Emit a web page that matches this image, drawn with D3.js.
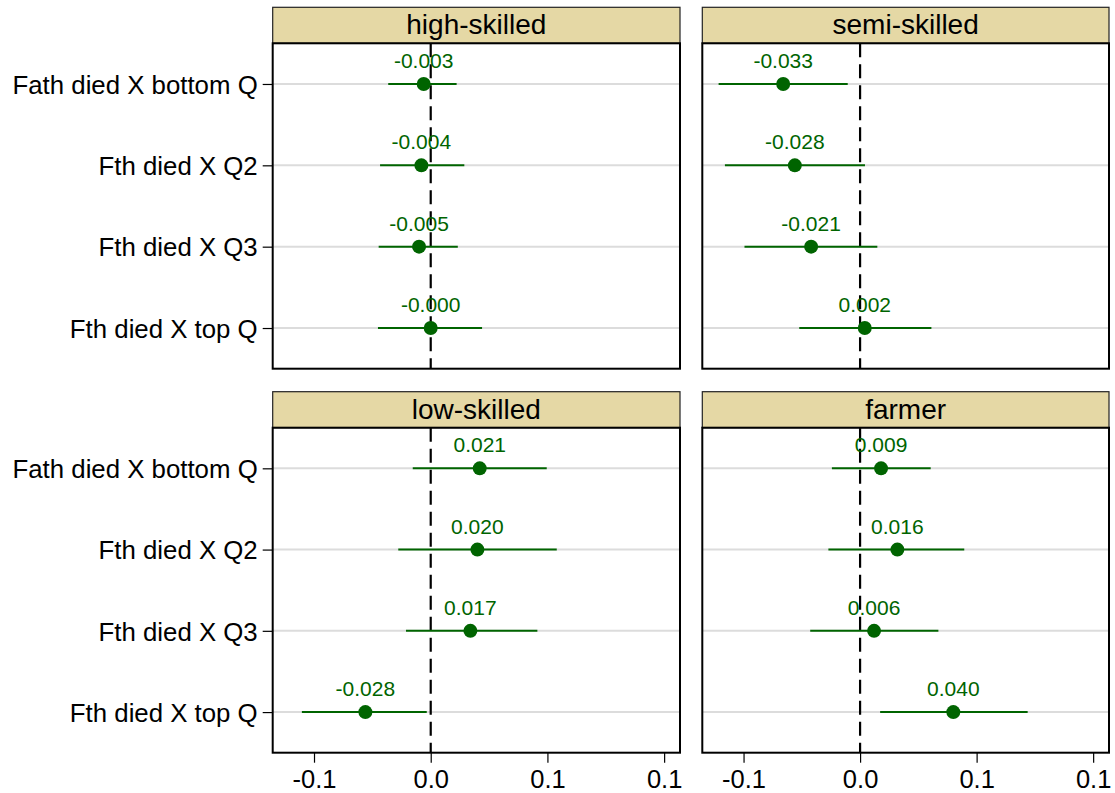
<!DOCTYPE html>
<html>
<head>
<meta charset="utf-8">
<script src="https://cdn.jsdelivr.net/npm/d3@7"></script>
<style>
  html, body { margin: 0; padding: 0; background: #fff; }
  svg { display: block; font-family: "Liberation Sans", Arial, sans-serif; }
</style>
</head>
<body>
<svg id="chart" width="1115" height="793"></svg>
<script>
// Interaction terms shown on the vertical axis
const terms = ["Fath died X bottom Q", "Fth died X Q2", "Fth died X Q3", "Fth died X top Q"];

// Occupational groups, one panel each (row-major order)
const groups = ["high-skilled", "semi-skilled", "low-skilled", "farmer"];

// Point estimates per group, in the order of `terms`
const estHigh   = [-0.003, -0.004, -0.005, -0.000];
const estSemi   = [-0.033, -0.028, -0.021, 0.002];
const estLow    = [0.021, 0.020, 0.017, -0.028];
const estFarmer = [0.009, 0.016, 0.006, 0.040];

// Lower and upper confidence bounds per group
const loHigh   = [-0.0182, -0.0217, -0.0223, -0.0226];
const hiHigh   = [0.0111, 0.0144, 0.0116, 0.0220];
const loSemi   = [-0.0607, -0.0580, -0.0496, -0.0261];
const hiSemi   = [-0.0053, 0.0021, 0.0074, 0.0306];
const loLow    = [-0.0077, -0.0139, -0.0106, -0.0552];
const hiLow    = [0.0497, 0.0540, 0.0457, -0.0017];
const loFarmer = [-0.0121, -0.0136, -0.0214, 0.0086];
const hiFarmer = [0.0303, 0.0447, 0.0336, 0.0719];

// Axis ticks and their printed labels (one decimal place)
const xTickValues = [-0.05, 0, 0.05, 0.10];
const xTickLabels = ["-0.1", "0.0", "0.1", "0.1"];

const estimates = [estHigh, estSemi, estLow, estFarmer];
const lowers = [loHigh, loSemi, loLow, loFarmer];
const uppers = [hiHigh, hiSemi, hiLow, hiFarmer];

const svg = d3.select("#chart");

const green = "#006400";
const stripFill = "#e5d8a5";
const font = "'Liberation Sans', Arial, sans-serif";

// Panel geometry
const colX = [[272.7, 680], [702.3, 1109]];
const rowY = [{ strip: 7.3, top: 43.3, bottom: 368.7 }, { strip: 391.7, top: 427.7, bottom: 752.7 }];

groups.forEach((g, gi) => {
  const c = gi % 2, r = Math.floor(gi / 2);
  const [x0, x1] = colX[c];
  const { strip, top, bottom } = rowY[r];

  const x = d3.scaleLinear().domain([-0.0677, 0.1068]).range([x0, x1]);
  const y = d3.scalePoint().domain(terms).range([top, bottom]).padding(0.5);

  const panel = svg.append("g");

  // strip with group title
  panel.append("rect")
    .attr("x", x0).attr("y", strip)
    .attr("width", x1 - x0).attr("height", top - strip)
    .attr("fill", stripFill).attr("stroke", "#222").attr("stroke-width", 1.2);
  panel.append("text")
    .attr("x", (x0 + x1) / 2).attr("y", strip + 27)
    .attr("text-anchor", "middle")
    .attr("font-size", 28).attr("fill", "#000")
    .text(g);

  // horizontal gridlines at each term
  panel.selectAll("line.grid").data(terms).join("line")
    .attr("class", "grid")
    .attr("x1", x0).attr("x2", x1)
    .attr("y1", d => y(d)).attr("y2", d => y(d))
    .attr("stroke", "#dcdcdc").attr("stroke-width", 2);

  // reference line at zero
  panel.append("line")
    .attr("x1", x(0)).attr("x2", x(0))
    .attr("y1", top).attr("y2", bottom)
    .attr("stroke", "#000").attr("stroke-width", 2.2)
    .attr("stroke-dasharray", "14,7");

  const rows = terms.map((t, i) => ({
    term: t, est: estimates[gi][i], lo: lowers[gi][i], hi: uppers[gi][i]
  }));

  // confidence intervals
  panel.selectAll("line.ci").data(rows).join("line")
    .attr("class", "ci")
    .attr("x1", d => x(d.lo)).attr("x2", d => x(d.hi))
    .attr("y1", d => y(d.term)).attr("y2", d => y(d.term))
    .attr("stroke", green).attr("stroke-width", 2);

  // point estimates
  panel.selectAll("circle.pt").data(rows).join("circle")
    .attr("class", "pt")
    .attr("cx", d => x(d.est)).attr("cy", d => y(d.term))
    .attr("r", 7).attr("fill", green);

  // value labels, three decimals, keeping the sign of negative zero
  panel.selectAll("text.val").data(rows).join("text")
    .attr("class", "val")
    .attr("x", d => x(d.est)).attr("y", d => y(d.term) - 16)
    .attr("text-anchor", "middle")
    .attr("font-size", 21).attr("fill", green)
    .text(d => (d.est < 0 || Object.is(d.est, -0) ? "-" : "") + Math.abs(d.est).toFixed(3));

  // frame
  panel.append("rect")
    .attr("x", x0).attr("y", top)
    .attr("width", x1 - x0).attr("height", bottom - top)
    .attr("fill", "none").attr("stroke", "#000").attr("stroke-width", 2);

  // y axis on the left column
  if (c === 0) {
    const yAxis = d3.axisLeft(y).tickSize(10).tickPadding(5);
    const ga = panel.append("g").attr("transform", `translate(${x0},0)`).call(yAxis);
    ga.select(".domain").remove();
    ga.selectAll(".tick line").attr("stroke", "#000").attr("stroke-width", 1.2);
    ga.selectAll(".tick text")
      .attr("font-size", 25.8).attr("fill", "#000")
      .attr("font-family", font)
      .attr("dy", "0.36em");
  }

  // x axis on the bottom row
  if (r === 1) {
    const xAxis = d3.axisBottom(x).tickValues(xTickValues)
      .tickFormat((d, i) => xTickLabels[i]).tickSize(10).tickPadding(7);
    const gx = panel.append("g").attr("transform", `translate(0,${bottom})`).call(xAxis);
    gx.select(".domain").remove();
    gx.selectAll(".tick line").attr("stroke", "#000").attr("stroke-width", 1.2);
    gx.selectAll(".tick text")
      .attr("font-size", 25.5).attr("fill", "#000")
      .attr("font-family", font);
  }
});
</script>
</body>
</html>
